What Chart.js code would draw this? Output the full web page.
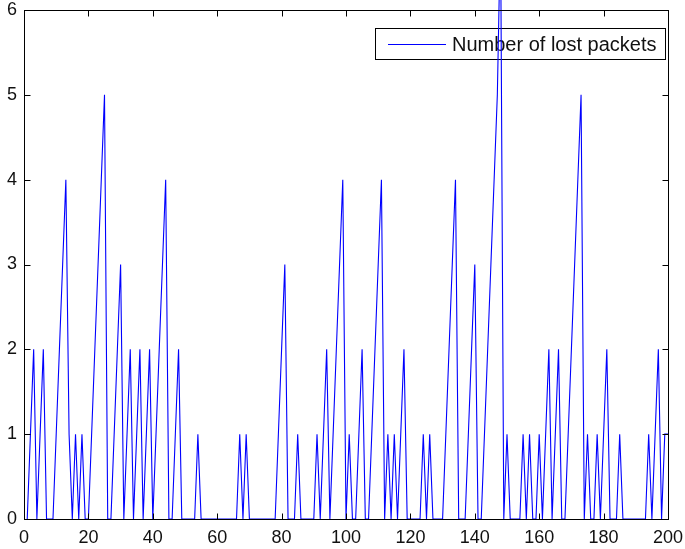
<!DOCTYPE html>
<html>
<head>
<meta charset="utf-8">
<script src="https://cdn.jsdelivr.net/npm/chart.js@4.4.1/dist/chart.umd.min.js"></script>
<style>
  html, body { margin: 0; padding: 0; background: #fff; }
  #wrap { width: 685px; height: 549px; }
</style>
</head>
<body>
<div id="wrap"><canvas id="lossChart"></canvas></div>
<script>
const seriesLabel = "Number of lost packets";

// lost packets per time slot, slots 1..200
const lostPackets = [
  0, 1, 2, 0, 1, 2, 0, 0, 0, 1, 2, 3, 4, 1, 0, 1, 0, 1, 0, 0,
  1, 2, 3, 4, 5, 0, 0, 1, 2, 3, 0, 1, 2, 0, 1, 2, 0, 1, 2, 0,
  1, 2, 3, 4, 0, 0, 1, 2, 0, 0, 0, 0, 0, 1, 0, 0, 0, 0, 0, 0,
  0, 0, 0, 0, 0, 0, 1, 0, 1, 0, 0, 0, 0, 0, 0, 0, 0, 0, 1, 2,
  3, 0, 0, 0, 1, 0, 0, 0, 0, 0, 1, 0, 1, 2, 0, 1, 2, 3, 4, 0,
  1, 0, 0, 1, 2, 0, 0, 1, 2, 3, 4, 0, 1, 0, 1, 0, 1, 2, 0, 0,
  0, 0, 0, 1, 0, 1, 0, 0, 0, 0, 1, 2, 3, 4, 0, 0, 0, 1, 2, 3,
  0, 0, 1, 2, 3, 4, 5, 7, 0, 1, 0, 0, 0, 0, 1, 0, 1, 0, 0, 1,
  0, 1, 2, 0, 1, 2, 0, 0, 1, 2, 3, 4, 5, 0, 1, 0, 0, 1, 0, 1,
  2, 0, 0, 0, 1, 0, 0, 0, 0, 0, 0, 0, 0, 1, 0, 1, 2, 0, 1, 1
];
const slots = lostPackets.map((_, i) => i + 1);

const xTicks = [0, 20, 40, 60, 80, 100, 120, 140, 160, 180, 200];
const yTicks = [0, 1, 2, 3, 4, 5, 6];

const FONT = '"Liberation Sans", Arial, sans-serif';

// boxed axes with inward ticks on all four sides, legend inside the top right corner
const boxedAxes = {
  id: 'boxedAxes',
  beforeDatasetsDraw(chart) {
    const { ctx, chartArea: a } = chart;
    const ds = chart.data.datasets[0];
    const bw = 290, bh = 31;
    const bx = Math.round(a.right) - 3 - bw, by = Math.round(a.top) + 18;
    ctx.save();
    ctx.fillStyle = '#fff';
    ctx.fillRect(bx, by, bw, bh);
    ctx.strokeStyle = '#000';
    ctx.lineWidth = 1;
    ctx.strokeRect(bx + 0.5, by + 0.5, bw, bh);
    ctx.strokeStyle = ds.borderColor;
    ctx.beginPath();
    ctx.moveTo(bx + 13, by + 16.5);
    ctx.lineTo(bx + 71, by + 16.5);
    ctx.stroke();
    ctx.fillStyle = '#111';
    ctx.font = '20px ' + FONT;
    ctx.textBaseline = 'middle';
    ctx.fillText(ds.label, bx + 77, by + 17);
    ctx.restore();
  },
  afterDatasetsDraw(chart) {
    const { ctx, chartArea: a, scales } = chart;
    const L = Math.round(a.left) + 0.5, R = Math.round(a.right) + 0.5;
    const T = Math.round(a.top) + 0.5, B = Math.round(a.bottom) + 0.5;
    const len = 6;
    ctx.save();
    ctx.strokeStyle = '#000';
    ctx.lineWidth = 1;
    ctx.strokeRect(L, T, R - L, B - T);
    ctx.beginPath();
    xTicks.forEach(v => {
      const px = Math.round(scales.x.getPixelForValue(v)) + 0.5;
      ctx.moveTo(px, B); ctx.lineTo(px, B - len);
      ctx.moveTo(px, T); ctx.lineTo(px, T + len);
    });
    yTicks.forEach(v => {
      const py = Math.round(scales.y.getPixelForValue(v)) + 0.5;
      ctx.moveTo(L, py); ctx.lineTo(L + len, py);
      ctx.moveTo(R, py); ctx.lineTo(R - len, py);
    });
    ctx.stroke();
    ctx.restore();
  }
};

new Chart(document.getElementById('lossChart'), {
  type: 'line',
  data: {
    datasets: [{
      label: seriesLabel,
      data: slots.map((s, i) => ({ x: s, y: lostPackets[i] })),
      borderColor: '#0000ff',
      borderWidth: 1.1,
      pointRadius: 0,
      tension: 0,
      fill: false,
      clip: false
    }]
  },
  options: {
    responsive: true,
    maintainAspectRatio: false,
    animation: false,
    layout: { padding: { top: 10, right: 17, bottom: 0, left: 0 } },
    plugins: {
      legend: { display: false },
      tooltip: { enabled: false }
    },
    scales: {
      x: {
        type: 'linear',
        min: 0,
        max: 200,
        afterBuildTicks: (s) => { s.ticks = xTicks.map(v => ({ value: v })); },
        afterFit: (s) => {
          s.height = 30;
          s.paddingLeft = 0;
          s.paddingRight = 0;
        },
        grid: { display: false, drawTicks: false },
        border: { display: false },
        ticks: {
          color: '#111',
          padding: 8,
          maxRotation: 0,
          font: { family: FONT, size: 18 }
        }
      },
      y: {
        min: 0,
        max: 6,
        afterBuildTicks: (s) => { s.ticks = yTicks.map(v => ({ value: v })); },
        afterFit: (s) => {
          s.width = 24;
          s.paddingTop = 0;
          s.paddingBottom = 0;
        },
        grid: { display: false, drawTicks: false },
        border: { display: false },
        ticks: {
          color: '#111',
          padding: 7,
          font: { family: FONT, size: 18 }
        }
      }
    }
  },
  plugins: [boxedAxes]
});
</script>
</body>
</html>
